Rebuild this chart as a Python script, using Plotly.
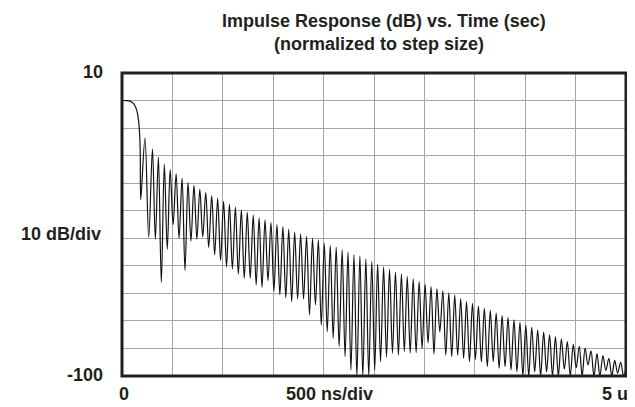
import plotly.graph_objects as go

# ---- data ----
# main lobe (time in ns, level in dB)
main_t = [0, 40, 70, 95, 115, 130, 145, 155, 163, 170, 176, 181, 186]
main_db = [0, 0, -0.1, -0.5, -1.1, -2.0, -3.4, -5.0, -7.0, -9.5, -13.0, -19.0, -36.0]

# side-lobe peaks (time in ns, level in dB)
peak_t = [228, 302, 361, 420, 478, 537, 596, 655, 714, 772, 831, 890, 949, 1008, 1066,
          1125, 1184, 1243, 1302, 1360, 1419, 1478, 1537, 1596, 1654, 1713, 1772, 1831,
          1890, 1948, 2007, 2066, 2125, 2184, 2242, 2301, 2360, 2419, 2478, 2536, 2595,
          2654, 2713, 2772, 2830, 2889, 2948, 3007, 3066, 3124, 3183, 3242, 3301, 3360,
          3418, 3477, 3536, 3595, 3654, 3712, 3771, 3830, 3889, 3948, 4006, 4065, 4124,
          4183, 4242, 4300, 4359, 4418, 4477, 4536, 4594, 4653, 4712, 4771, 4830, 4888, 4947]
peak_db = [-13.6, -17.6, -20.5, -23.1, -25.1, -26.6, -28.2, -29.7, -30.8, -32.2, -33.4,
           -34.5, -35.5, -36.6, -37.6, -38.7, -39.7, -40.6, -41.6, -42.6, -43.3, -44.3,
           -45.0, -45.8, -46.7, -47.8, -48.5, -49.3, -50.0, -50.7, -51.8, -52.6, -53.3,
           -54.2, -55.0, -56.0, -56.4, -57.5, -58.4, -59.4, -60.4, -61.2, -62.3, -63.0,
           -63.9, -64.7, -65.7, -66.7, -67.5, -68.4, -69.1, -69.8, -70.6, -72.0, -73.0,
           -73.6, -74.6, -75.4, -76.2, -77.2, -78.1, -78.8, -79.6, -80.5, -81.5, -82.3,
           -83.3, -84.1, -85.1, -85.8, -86.5, -87.5, -88.5, -89.2, -89.9, -90.9, -91.9,
           -92.6, -93.6, -94.3, -95.0]

# nulls following each side-lobe peak (time in ns, level in dB)
null_t = [265, 331, 390, 449, 507, 566, 625, 684, 743, 801, 860, 919, 978, 1037, 1095,
          1154, 1213, 1272, 1331, 1389, 1448, 1507, 1566, 1625, 1683, 1742, 1801, 1860,
          1919, 1977, 2036, 2095, 2154, 2213, 2271, 2330, 2389, 2448, 2507, 2565, 2624,
          2683, 2742, 2801, 2859, 2918, 2977, 3036, 3095, 3153, 3212, 3271, 3330, 3389,
          3447, 3506, 3565, 3624, 3683, 3741, 3800, 3859, 3918, 3977, 4035, 4094, 4153,
          4212, 4271, 4329, 4388, 4447, 4506, 4565, 4623, 4682, 4741, 4800, 4859, 4917, 4976]
null_db = [-49.7, -50.3, -66.0, -54.0, -45.0, -50.0, -61.6, -51.0, -50.3, -49.5, -53.3,
           -56.0, -58.0, -60.4, -61.2, -63.0, -64.5, -64.5, -66.9, -67.8, -65.4, -69.2,
           -70.5, -71.6, -73.0, -72.0, -72.0, -77.8, -74.2, -81.5, -83.9, -86.3, -89.3,
           -93.0, -97.8, -100.0, -100.0, -100.0, -97.8, -94.8, -93.0, -91.7, -92.4, -91.1,
           -91.7, -91.5, -90.0, -88.0, -92.0, -84.0, -92.4, -93.0, -92.5, -93.6, -94.8,
           -94.0, -94.8, -96.6, -94.8, -97.2, -96.6, -97.8, -98.4, -100.0, -100.0, -98.5,
           -100.0, -98.5, -100.0, -100.0, -97.5, -100.0, -97.0, -100.0, -96.0, -100.0,
           -100.0, -98.0, -100.0, -99.0, -100.0]
end_t = [5000]
end_db = [-97.0]

# axes
x_range = [0, 5000]     # ns
y_range = [-100, 10]    # dB
x_div = 500
y_div = 10

title_lines = ["Impulse Response (dB) vs. Time (sec)", "(normalized to step size)"]
y_top_label, y_bot_label, y_mid_label = "10", "-100", "10 dB/div"
x_left_label, x_mid_label, x_right_label = "0", "500 ns/div", "5 u"

# ---- build trace: main lobe then alternating peak / null ----
t_all = list(main_t)
d_all = list(main_db)
for pt, pd, nt, nd in zip(peak_t, peak_db, null_t, null_db):
    t_all += [pt, nt]
    d_all += [pd, nd]
t_all += end_t
d_all += end_db

FONT = "Liberation Sans, Arial, sans-serif"
INK = "#231f20"

fig = go.Figure()
fig.add_trace(go.Scatter(
    x=t_all, y=d_all, mode="lines",
    line=dict(color="#111111", width=1.2, shape="spline", smoothing=1.0),
    hoverinfo="skip", showlegend=False, cliponaxis=True))

W, H = 635, 407
L, R, T, B = 114, 17, 65, 39
pw, ph = W - L - R, H - T - B
DY = 7  # annotation box vs glyph offset

def px(x):
    return (x - L) / pw

def py(y):
    return (H - B - (y - DY)) / ph

ann = []
fnt = dict(family=FONT, size=18, color=INK)

def add(text, x, y, xa):
    ann.append(dict(text="<b>%s</b>" % text, x=px(x), y=py(y), xref="paper", yref="paper",
                    xanchor=xa, yanchor="middle", showarrow=False, font=fnt))

add(title_lines[0], 376, 20, "center")
add(title_lines[1], 371, 43, "center")
add(y_top_label, 97, 71, "right")
add(y_bot_label, 97, 374, "right")
add(y_mid_label, 95, 233, "right")
add(x_left_label, 116, 393, "center")
add(x_mid_label, 321, 393, "center")
add(x_right_label, 622, 393, "right")

fig.update_layout(
    width=W, height=H,
    margin=dict(l=L, r=R, t=T, b=B, pad=0),
    paper_bgcolor="white", plot_bgcolor="white",
    annotations=ann,
    xaxis=dict(range=x_range, dtick=x_div, tick0=0, showticklabels=False, ticks="",
               showgrid=True, gridcolor="#a6a6a6", gridwidth=1, zeroline=False,
               showline=False, fixedrange=True),
    yaxis=dict(range=y_range, dtick=y_div, tick0=-100, showticklabels=False, ticks="",
               showgrid=True, gridcolor="#a6a6a6", gridwidth=1, zeroline=False,
               showline=False, fixedrange=True),
    shapes=[dict(type="rect", xref="paper", yref="paper", x0=0, x1=1, y0=0, y1=1,
                 line=dict(color=INK, width=3), layer="above")],
)

fig.write_html("out.html")
